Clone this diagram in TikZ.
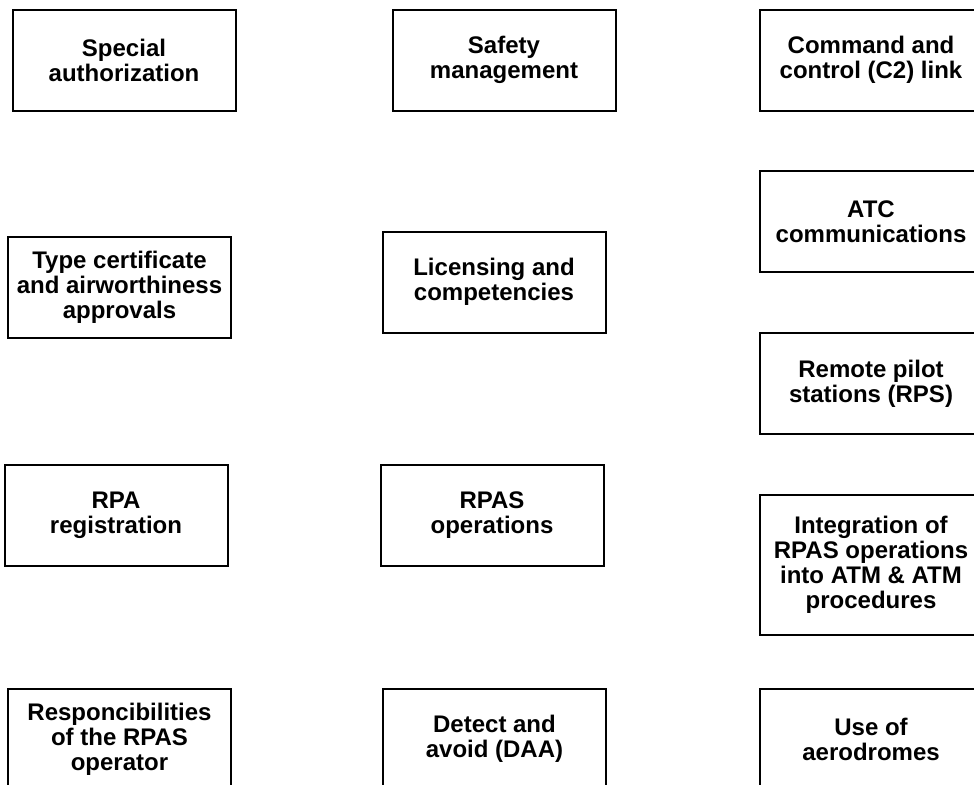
\documentclass[tikz,border=0pt]{standalone}
\usepackage{fontspec}
\setmainfont{Liberation Sans}
\begin{document}
\begin{tikzpicture}[x=0.5pt, y=-0.5pt,
  every node/.style={font=\fontsize{12}{12.5}\selectfont\bfseries},
  box/.style={draw, line width=1pt, align=center, inner sep=0pt,
    minimum width=111.5pt, minimum height=50.5pt}]
  \useasboundingbox (0,0) rectangle (974,784);
  \clip (0,0) rectangle (974,784);
  % first row
  \node[box] (auth)   at (124,60)    {Special\\authorization};
  \node[box] (safety) at (504,60)    {Safety\\management};
  \node[box] (c2)     at (871,60)    {Command and\\control (C2) link};
  % second row
  \node[box] (atc)    at (871,221.5) {ATC\\communications};
  \node[box] (type)   at (119.5,287) {Type certificate\\and airworthiness\\approvals};
  \node[box] (lic)    at (494,282)   {Licensing and\\competencies};
  \node[box] (rps)    at (871,383.5) {Remote pilot\\stations (RPS)};
  % third row
  \node[box] (reg)    at (116,515)   {RPA\\registration};
  \node[box] (ops)    at (492,515)   {RPAS\\operations};
  \node[box, minimum height=70pt] (atm) at (871,565)
    {Integration of\\RPAS operations\\into ATM \& ATM\\procedures};
  % last row
  \node[box] (resp)   at (119.5,739) {Responcibilities\\of the RPAS\\operator};
  \node[box] (daa)    at (494.5,739) {Detect and\\avoid (DAA)};
  \node[box] (aero)   at (871,739)   {Use of\\aerodromes};
\end{tikzpicture}
\end{document}
